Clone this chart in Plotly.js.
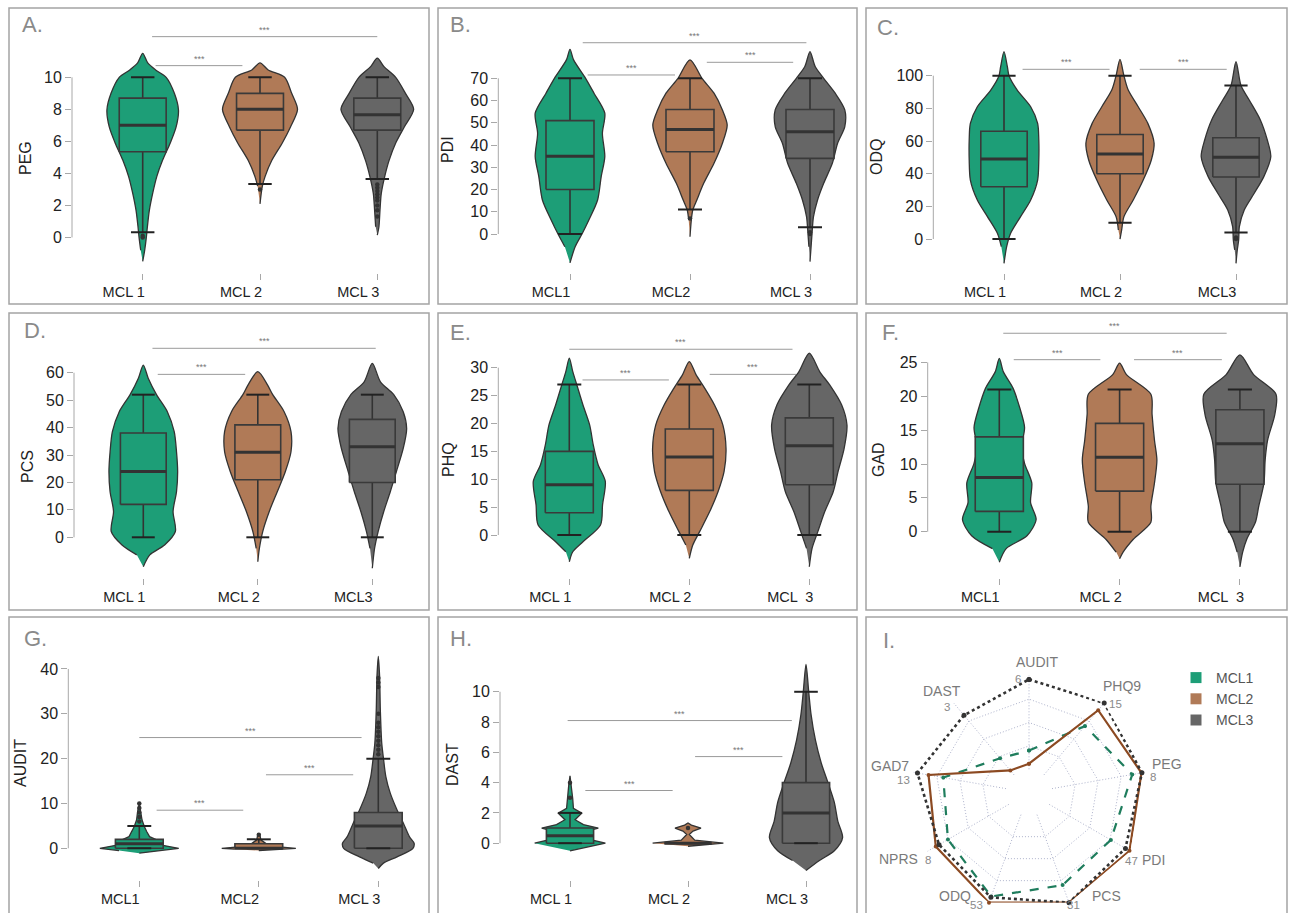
<!DOCTYPE html>
<html><head><meta charset="utf-8">
<script src="https://cdn.plot.ly/plotly-3.0.1.min.js"></script>
<style>html,body{margin:0;padding:0;background:#fff}</style>
</head><body><div id="chart" style="width:1293px;height:913px"></div>
<script>
// ---------------- DATA ----------------
const groupNames = ['MCL1','MCL2','MCL3'];

// Panel A: PEG
const PEG_ticks = ['MCL 1','MCL 2','MCL 3'];
const PEG_yticks = [0,2,4,6,8,10];
const PEG_vy = [[-1.5,-0.8,0,0.67,1.7,2.75,3.8,4.83,5.9,6.9,7.96,9.0,10.0,10.46,10.9,11.5],
                [2.1,3.2,3.8,4.8,5.9,6.9,8,9,10,10.46,10.9],
                [0.15,0.67,1.7,2.75,3.8,4.8,5.9,6.9,8,9,10,10.67,11.2]];
const PEG_vw = [[0,0.017,0.031,0.04,0.057,0.085,0.12,0.17,0.235,0.285,0.305,0.27,0.2,0.11,0.043,0],
                [0,0.02,0.043,0.10,0.19,0.26,0.32,0.27,0.21,0.07,0],
                [0,0.014,0.023,0.034,0.063,0.10,0.157,0.23,0.31,0.24,0.157,0.057,0]];
const PEG_q1 = [5.35,6.7,6.7], PEG_med = [7.0,8.0,7.67], PEG_q3 = [8.7,9.0,8.7];
const PEG_lo = [0.33,3.33,3.65], PEG_hi = [10,10,10];
const PEG_out = [[0.1,0.0],[3.0],[3.3,3.1,2.9,2.7,2.5,2.3,2.0,1.7,1.3]];

// Panel B: PDI
const PDI_ticks = ['MCL1','MCL2','MCL 3'];
const PDI_yticks = [0,10,20,30,40,50,60,70];
const PDI_vy = [[-13,-5.7,0,6.3,15.3,25.8,34.8,45.3,54.3,63.3,70,78.3,83],
                [-1.2,6.3,10.8,15.3,22.8,31.8,40.8,49,55.8,63.3,70,78.3],
                [-12.4,-5.7,0.3,7.8,15.3,22.8,31.8,40.8,48.3,55.8,63.3,70,75.3,82]];
const PDI_vw = [[0,0.043,0.1,0.157,0.23,0.26,0.29,0.27,0.29,0.2,0.13,0.03,0],
                [0,0.011,0.023,0.057,0.114,0.2,0.27,0.31,0.27,0.2,0.1,0],
                [0,0.009,0.017,0.029,0.063,0.114,0.186,0.23,0.29,0.29,0.21,0.114,0.043,0]];
const PDI_q1 = [20,37,34], PDI_med = [35,47,46], PDI_q3 = [51,56,56];
const PDI_lo = [0,11,3], PDI_hi = [70,70,70];
const PDI_out = [[],[7],[0.8,0]];

// Panel C: ODQ
const ODQ_ticks = ['MCL 1','MCL 2','MCL3'];
const ODQ_yticks = [0,20,40,60,80,100];
const ODQ_vy = [[-14.9,-4.7,3.5,13.7,23.9,36.1,48.4,60.6,70.8,81,91.2,100,105.5,114.7],
                [0,5.5,13.7,23.9,36.1,48.4,58.6,70.8,81,91.2,100,110],
                [-14.9,-6.7,-0.6,7.6,17.8,28,38.2,50.4,60.6,72.9,85.1,94,108.6]];
const ODQ_vw = [[0,0.023,0.057,0.143,0.23,0.29,0.30,0.30,0.29,0.23,0.114,0.043,0.029,0],
                [0,0.014,0.034,0.114,0.2,0.27,0.294,0.24,0.157,0.071,0.034,0],
                [0,0.011,0.023,0.029,0.071,0.157,0.24,0.30,0.27,0.21,0.114,0.043,0]];
const ODQ_q1 = [32,40,38], ODQ_med = [49,52,50], ODQ_q3 = [66,64,62];
const ODQ_lo = [0,10,4], ODQ_hi = [100,100,94];
const ODQ_out = [[],[],[1,0]];

// Panel D: PCS
const PCS_ticks = ['MCL 1','MCL 2','MCL3'];
const PCS_yticks = [0,10,20,30,40,50,60];
const PCS_vy = [[-10.7,-6.4,-2.8,2.1,9.4,16.6,23.9,31.2,38.5,45.8,52.1,58,62.8],
                [-8.9,-4,2.1,9.4,16.6,23.9,31.2,38.5,45.8,52.1,55.5,60.4],
                [-11.3,-4,2.1,9.4,16.6,23.9,32.4,39.7,45.8,52.1,56.7,63.4]];
const PCS_vw = [[0,0.057,0.186,0.28,0.26,0.29,0.30,0.29,0.27,0.21,0.114,0.043,0],
                [0,0.014,0.043,0.1,0.17,0.24,0.29,0.29,0.23,0.129,0.086,0],
                [0,0.02,0.051,0.1,0.157,0.21,0.27,0.30,0.27,0.186,0.071,0]];
const PCS_q1 = [12,21,20], PCS_med = [24,31,33], PCS_q3 = [38,41,43];
const PCS_lo = [0,0,0], PCS_hi = [52,52,52];
const PCS_out = [[],[],[]];

// Panel E: PHQ
const PHQ_ticks = ['MCL 1','MCL 2','MCL  3'];
const PHQ_yticks = [0,5,10,15,20,25,30];
const PHQ_vy = [[-4.8,-3,-1.2,1.8,5.4,9.6,12.6,16.1,19.7,23.3,26.9,29.3,31.7],
                [-4.2,-1.8,0.6,4.2,7.8,11.4,15.5,19.7,23.3,26.3,28.7,31.1],
                [-5.7,-2.4,0.6,4.2,7.8,11.4,15.5,19.7,23.3,26.9,29.3,32.6]];
const PHQ_vw = [[0,0.029,0.114,0.26,0.277,0.30,0.24,0.2,0.17,0.114,0.063,0.029,0],
                [0,0.029,0.086,0.17,0.24,0.29,0.306,0.28,0.21,0.129,0.057,0],
                [0,0.023,0.071,0.129,0.2,0.24,0.29,0.314,0.27,0.17,0.086,0]];
const PHQ_q1 = [4,8,9], PHQ_med = [9,14,16], PHQ_q3 = [15,19,21];
const PHQ_lo = [0,0,0], PHQ_hi = [27,27,27];
const PHQ_out = [[],[],[]];

// Panel F: GAD
const GAD_ticks = ['MCL1','MCL 2','MCL  3'];
const GAD_yticks = [0,5,10,15,20,25];
const GAD_vy = [[-4.5,-2.5,-0.6,1.8,4.3,7.2,10.1,12.5,15.4,18.3,21.2,23.6,25.6],
                [-4,-3,-1.1,1.4,3.8,7.2,10.6,13.5,17.3,20.3,23.2,24.9],
                [-5.2,-3,-1.1,1.4,3.8,7.2,10.6,13.5,17.3,20.3,23.2,26.1]];
const GAD_vw = [[0,0.057,0.23,0.306,0.26,0.27,0.21,0.186,0.21,0.17,0.114,0.034,0],
                [0,0.029,0.114,0.26,0.26,0.29,0.31,0.29,0.27,0.26,0.057,0],
                [0,0.023,0.057,0.129,0.157,0.2,0.21,0.23,0.29,0.30,0.114,0]];
const GAD_q1 = [3,6,7], GAD_med = [8,11,13], GAD_q3 = [14,16,18];
const GAD_lo = [0,0,0], GAD_hi = [21,21,21];
const GAD_out = [[],[],[]];

// Panel G: AUDIT
const AUDIT_ticks = ['MCL1','MCL2','MCL 3'];
const AUDIT_yticks = [0,10,20,30,40];
const AUDIT_vy = [[-1.1,-0.5,0,0.5,1.1,1.9,2.6,3.7,4.8,6.3,8.2,10],
                  [-0.5,-0.2,0,0.3,0.75,1.1,1.9,2.75,3.3],
                  [-4.5,-3.3,-1.9,0,1.1,2.6,5.6,8.55,12.3,16,20.1,23.4,30.9,38.3,42.8]];
const AUDIT_vw = [[0,0.17,0.33,0.23,0.114,0.143,0.086,0.063,0.043,0.023,0.014,0],
                  [0,0.2,0.31,0.17,0.071,0.057,0.017,0.011,0],
                  [0,0.043,0.157,0.29,0.30,0.26,0.21,0.157,0.1,0.063,0.043,0.029,0.017,0.011,0]];
const AUDIT_q1 = [0,0,0], AUDIT_med = [1,0,5], AUDIT_q3 = [2,1,8];
const AUDIT_lo = [0,0,0], AUDIT_hi = [5,2,20];
const AUDIT_out = [[6,7,8,9,10],[3],[21,22,23,24,25,26,27,28,30,36,37,38]];

// Panel H: DAST
const DAST_ticks = ['MCL 1','MCL 2','MCL 3'];
const DAST_yticks = [0,2,4,6,8,10];
const DAST_vy = [[-0.5,0,0.37,0.54,0.8,1.0,1.23,1.55,1.98,2.3,2.95,3.8,4.45],
                 [-0.2,0,0.2,0.58,0.8,1.0,1.2,1.33],
                 [-1.8,-1.14,-0.5,0.37,1.44,2.7,4,5.3,6.8,8.5,10,11.8]];
const DAST_vw = [[0,0.3,0.1,0.086,0.143,0.24,0.114,0.043,0.1,0.029,0.023,0.011,0],
                 [0,0.3,0.057,0.011,0.043,0.11,0.029,0],
                 [0,0.114,0.24,0.31,0.27,0.24,0.186,0.129,0.08,0.043,0.023,0]];
const DAST_q1 = [0,0,0], DAST_med = [0.5,0,2], DAST_q3 = [1,0,4];
const DAST_lo = [0,0,0], DAST_hi = [2,0,10];
const DAST_out = [[3,4],[1],[]];

// Panel I: radar (values normalised to each axis maximum)
const radarAxes = ['AUDIT','PHQ9','PEG','PDI','PCS','ODQ','NPRS','GAD7','DAST'];
const radarMax  = ['6','15','8','47','31','53','8','13','3'];
const radarMCL1 = [0.20,0.68,0.87,0.76,0.80,0.93,0.75,0.68,0.23];
const radarMCL2 = [0.06,0.90,0.97,0.99,1.00,1.00,0.90,0.84,0.06];
const radarMCL3 = [0.96,1.00,0.975,0.94,1.00,0.94,0.86,0.96,0.83];

// ---------------- LAYOUT / STYLE ----------------
const W = 1293, H = 913;
const px = x => x / W, py = y => 1 - y / H;
const fillColors = ['#1d9e77','#b07a57','#666666'];
const edge = '#333333';
const FONT = 'Liberation Sans, Arial, Helvetica, sans-serif';

const panelData = [
  {t:'PEG',  ticks:PEG_ticks,  yt:PEG_yticks,  vy:PEG_vy,  vw:PEG_vw,  q1:PEG_q1,  med:PEG_med,  q3:PEG_q3,  lo:PEG_lo,  hi:PEG_hi,  out:PEG_out},
  {t:'PDI',  ticks:PDI_ticks,  yt:PDI_yticks,  vy:PDI_vy,  vw:PDI_vw,  q1:PDI_q1,  med:PDI_med,  q3:PDI_q3,  lo:PDI_lo,  hi:PDI_hi,  out:PDI_out},
  {t:'ODQ',  ticks:ODQ_ticks,  yt:ODQ_yticks,  vy:ODQ_vy,  vw:ODQ_vw,  q1:ODQ_q1,  med:ODQ_med,  q3:ODQ_q3,  lo:ODQ_lo,  hi:ODQ_hi,  out:ODQ_out},
  {t:'PCS',  ticks:PCS_ticks,  yt:PCS_yticks,  vy:PCS_vy,  vw:PCS_vw,  q1:PCS_q1,  med:PCS_med,  q3:PCS_q3,  lo:PCS_lo,  hi:PCS_hi,  out:PCS_out},
  {t:'PHQ',  ticks:PHQ_ticks,  yt:PHQ_yticks,  vy:PHQ_vy,  vw:PHQ_vw,  q1:PHQ_q1,  med:PHQ_med,  q3:PHQ_q3,  lo:PHQ_lo,  hi:PHQ_hi,  out:PHQ_out},
  {t:'GAD',  ticks:GAD_ticks,  yt:GAD_yticks,  vy:GAD_vy,  vw:GAD_vw,  q1:GAD_q1,  med:GAD_med,  q3:GAD_q3,  lo:GAD_lo,  hi:GAD_hi,  out:GAD_out},
  {t:'AUDIT',ticks:AUDIT_ticks,yt:AUDIT_yticks,vy:AUDIT_vy,vw:AUDIT_vw,q1:AUDIT_q1,med:AUDIT_med,q3:AUDIT_q3,lo:AUDIT_lo,hi:AUDIT_hi,out:AUDIT_out},
  {t:'DAST', ticks:DAST_ticks, yt:DAST_yticks, vy:DAST_vy, vw:DAST_vw, q1:DAST_q1, med:DAST_med, q3:DAST_q3, lo:DAST_lo, hi:DAST_hi, out:DAST_out}
];

// geometry of each subplot (pixels) and axis ranges
const geom = [
  {L:72,   R:425,  T:20,  B:272.5, xr:[-0.6027,2.4067], yr:[-2.19,13.58], smooth:true,  yt:[25,158],  letter:[20,25],  lt:'A.'},
  {L:498.3,R:853,  T:20,  B:272.5, xr:[-0.5975,2.3583], yr:[-17.3,96.22], smooth:true,  yt:[448,150], letter:[448,25], lt:'B.'},
  {L:933.3,R:1282, T:20,  B:272.5, xr:[-0.6095,2.3966], yr:[-20.5,134.1], smooth:true,  yt:[877,157], letter:[875,28], lt:'C.'},
  {L:74,   R:425,  T:325, B:578,   xr:[-0.6052,2.4603], yr:[-14.84,77.4], smooth:true,  yt:[27,467],  letter:[22,330], lt:'D.'},
  {L:498.3,R:853,  T:325, B:578,   xr:[-0.5917,2.3642], yr:[-7.71,37.65], smooth:true,  yt:[448,460], letter:[448,333],lt:'E.'},
  {L:927.7,R:1282, T:325, B:578,   xr:[-0.5952,2.350],  yr:[-6.83,30.52], smooth:true,  yt:[878,460], letter:[880,333],lt:'F.'},
  {L:68.3, R:425,  T:630, B:880,   xr:[-0.5941,2.3908], yr:[-7.07,48.69], smooth:false, yt:[20,763],  letter:[22,638], lt:'G.'},
  {L:500,  R:853,  T:630, B:880,   xr:[-0.5932,2.3983], yr:[-2.43,14.08], smooth:false, yt:[452,765], letter:[448,638],lt:'H.'}
];

// significance bars per panel: [x0, x1, y]
const sigBars = [
  [[0.08,2.0,12.54],[0.11,0.85,10.73]],
  [[0.106,1.97,86],[0.147,0.875,71.5],[1.14,1.86,77.2]],
  [[0.16,0.91,103.9],[1.17,1.92,103.9]],
  [[0.08,2.03,68.9],[0.126,0.89,59.4]],
  [[0,1.86,33.3],[0.11,0.83,27.8],[1.17,1.89,28.8]],
  [[0.033,1.89,29.3],[0.12,0.84,25.4],[1.12,1.85,25.4]],
  [[0,1.86,24.7],[0.145,0.87,8.5],[1.06,1.79,16.4]],
  [[-0.02,1.88,8.1],[0.13,0.87,3.48],[1.06,1.8,5.72]]
];

const frames = [
  [9,429,8,304],[438,857,8,304],[866,1287,8,304],
  [9,429,313,610],[438,857,313,610],[866,1287,313,610],
  [9,429,617,930],[438,857,617,930],[866,1287,617,930]
];

const BOXW = 0.2, CAPW = 0.1;
const traces = [];
const layout = {
  width:W, height:H, autosize:false,
  margin:{l:0,r:0,t:0,b:0},
  paper_bgcolor:'#ffffff', plot_bgcolor:'rgba(0,0,0,0)',
  font:{family:FONT, color:'#222'},
  showlegend:true,
  shapes:[], annotations:[]
};

panelData.forEach((p, i) => {
  const g = geom[i];
  const s = i === 0 ? '' : String(i + 1);
  const xa = 'x' + s, ya = 'y' + s;
  layout['xaxis' + s] = {
    domain:[px(g.L), px(g.R)], range:g.xr, anchor:ya,
    tickmode:'array', tickvals:[0,1,2], ticktext:p.ticks,
    ticks:'outside', ticklen:6, tickcolor:'#a8a8a8', tickwidth:1,
    ticklabelshift:-19,
    showline:false, zeroline:false, showgrid:false, fixedrange:true,
    tickfont:{size:14.5, color:'#222', family:FONT}
  };
  layout['yaxis' + s] = {
    domain:[py(g.B), py(g.T)], range:g.yr, anchor:xa,
    tickmode:'array', tickvals:p.yt,
    ticks:'outside', ticklen:6, tickcolor:'#a8a8a8', tickwidth:1,
    showline:false, zeroline:false, showgrid:false, fixedrange:true,
    tickfont:{size:16, color:'#222', family:FONT}
  };
  layout.shapes.push({type:'line', xref:xa + ' domain', yref:ya, x0:0, x1:0,
    y0:p.yt[0], y1:p.yt[p.yt.length-1], line:{color:'#a8a8a8', width:1}});

  for (let k = 0; k < 3; k++) {
    const lev = p.vy[k], wid = p.vw[k];
    const xs = [], ys = [];
    for (let j = 0; j < lev.length; j++) { xs.push(k + wid[j]); ys.push(lev[j]); }
    for (let j = lev.length - 2; j >= 1; j--) { xs.push(k - wid[j]); ys.push(lev[j]); }
    const smoothIt = g.smooth || k === 2;
    traces.push({type:'scatter', mode:'lines', x:xs, y:ys, xaxis:xa, yaxis:ya,
      fill:'toself', fillcolor:fillColors[k],
      line:{color:edge, width:1.3, shape: smoothIt ? 'spline' : 'linear', smoothing:0.8},
      hoverinfo:'skip', showlegend:false});
    traces.push({type:'scatter', mode:'lines', xaxis:xa, yaxis:ya,
      x:[k, k, null, k, k], y:[p.lo[k], p.q1[k], null, p.q3[k], p.hi[k]],
      line:{color:'#333', width:1.6}, hoverinfo:'skip', showlegend:false});
    traces.push({type:'scatter', mode:'lines', xaxis:xa, yaxis:ya,
      x:[k - BOXW, k + BOXW, k + BOXW, k - BOXW, k - BOXW],
      y:[p.q1[k], p.q1[k], p.q3[k], p.q3[k], p.q1[k]],
      fill:'toself', fillcolor:fillColors[k],
      line:{color:'#3a3a3a', width:1.6}, hoverinfo:'skip', showlegend:false});
    traces.push({type:'scatter', mode:'lines', xaxis:xa, yaxis:ya,
      x:[k - CAPW, k + CAPW, null, k - CAPW, k + CAPW], y:[p.lo[k], p.lo[k], null, p.hi[k], p.hi[k]],
      line:{color:'#222', width:2}, hoverinfo:'skip', showlegend:false});
    traces.push({type:'scatter', mode:'lines', x:[k - BOXW, k + BOXW], y:[p.med[k], p.med[k]],
      xaxis:xa, yaxis:ya, line:{color:'#333', width:3}, hoverinfo:'skip', showlegend:false});
    if (p.out[k].length) {
      traces.push({type:'scatter', mode:'markers', x:p.out[k].map(() => k), y:p.out[k],
        xaxis:xa, yaxis:ya, marker:{color:'#333', size:4.5}, hoverinfo:'skip', showlegend:false});
    }
  }
  sigBars[i].forEach(b => {
    layout.shapes.push({type:'line', xref:xa, yref:ya, x0:b[0], x1:b[1], y0:b[2], y1:b[2],
      line:{color:'#9a9a9a', width:1}});
    layout.annotations.push({xref:xa, yref:ya, x:(b[0] + b[1]) / 2, y:b[2], text:'***',
      showarrow:false, yanchor:'bottom', font:{size:9, color:'#777', family:FONT}});
  });
  layout.annotations.push({xref:'paper', yref:'paper', x:px(g.yt[0]), y:py(g.yt[1]),
    text:p.t, textangle:-90, showarrow:false, xanchor:'center', yanchor:'middle',
    font:{size:16, color:'#222', family:FONT}});
});

geom.forEach(g => {
  layout.annotations.push({xref:'paper', yref:'paper', x:px(g.letter[0]), y:py(g.letter[1]),
    text:g.lt, showarrow:false, xanchor:'left', yanchor:'middle',
    font:{size:22, color:'#8a8a8a', family:FONT}});
});
layout.annotations.push({xref:'paper', yref:'paper', x:px(881), y:py(640),
  text:'I.', showarrow:false, xanchor:'left', yanchor:'middle',
  font:{size:22, color:'#8a8a8a', family:FONT}});
frames.forEach(f => {
  layout.shapes.push({type:'rect', xref:'paper', yref:'paper', x0:px(f[0]), x1:px(f[1]),
    y0:py(f[3]), y1:py(f[2]), line:{color:'#a4a4a4', width:1.5}, fillcolor:'rgba(0,0,0,0)', layer:'below'});
});

// ---------------- RADAR ----------------
const cx = 1029, cy = 792.7, R = 117;
layout.polar = {
  domain:{x:[px(cx - R), px(cx + R)], y:[py(cy + R), py(cy - R)]},
  hole:0.2, gridshape:'linear', bgcolor:'rgba(0,0,0,0)',
  radialaxis:{range:[0,1], tickvals:[0,0.25,0.5,0.75,1], showticklabels:false, ticks:'',
    showline:false, gridcolor:'#aeb3cc', griddash:'1px,2px', gridwidth:1},
  angularaxis:{direction:'clockwise', rotation:90, showline:false, ticks:'', showticklabels:false,
    gridcolor:'#aeb3cc', griddash:'1px,2px', gridwidth:1}
};
const radarLabelPos = [[1036.7,661.7],[1121.7,686],[1166.7,764],[1153.3,860],[1106.7,896],[955,895.7],[898.3,859.3],[890,766],[941.7,690.7]];
const radarMaxPos   = [[1018.3,679],[1115,704],[1152.7,776.7],[1131.7,860.7],[1073.3,905],[976.7,905],[928.3,860],[903.3,780],[947.3,706.7]];
radarAxes.forEach((a, j) => {
  layout.annotations.push({xref:'paper', yref:'paper', x:px(radarLabelPos[j][0]), y:py(radarLabelPos[j][1]),
    text:a, showarrow:false, xanchor:'center', yanchor:'middle', font:{size:14, color:'#7a7a7a', family:FONT}});
  layout.annotations.push({xref:'paper', yref:'paper', x:px(radarMaxPos[j][0]), y:py(radarMaxPos[j][1]),
    text:radarMax[j], showarrow:false, xanchor:'center', yanchor:'middle', font:{size:11.5, color:'#8a8a8a', family:FONT}});
});
const close = a => a.concat([a[0]]);
const radarStyles = [
  {c:'#1f7d5d', dash:'dash', w:2.2, ms:4},
  {c:'#8c4a22', dash:'solid', w:2.2, ms:4},
  {c:'#333333', dash:'dot', w:2.6, ms:5}
];
[radarMCL1, radarMCL2, radarMCL3].forEach((vals, k) => {
  traces.push({type:'scatterpolar', r:close(vals), theta:close(radarAxes), mode:'lines+markers',
    line:{color:radarStyles[k].c, dash:radarStyles[k].dash, width:radarStyles[k].w},
    marker:{color:radarStyles[k].c, size:radarStyles[k].ms},
    hoverinfo:'skip', showlegend:false, cliponaxis:false});
});
groupNames.forEach((n, k) => {
  traces.push({type:'scatterpolar', r:[null], theta:[radarAxes[0]], mode:'markers', name:n,
    marker:{symbol:'square', size:11, color:fillColors[k]}, hoverinfo:'skip', showlegend:true});
});
layout.legend = {x:px(1176), y:py(662), xanchor:'left', yanchor:'top',
  font:{size:14, color:'#555', family:FONT}, bgcolor:'rgba(0,0,0,0)', itemwidth:30, tracegroupgap:0};

Plotly.newPlot('chart', traces, layout, {displayModeBar:false, staticPlot:true});
</script>
</body></html>
